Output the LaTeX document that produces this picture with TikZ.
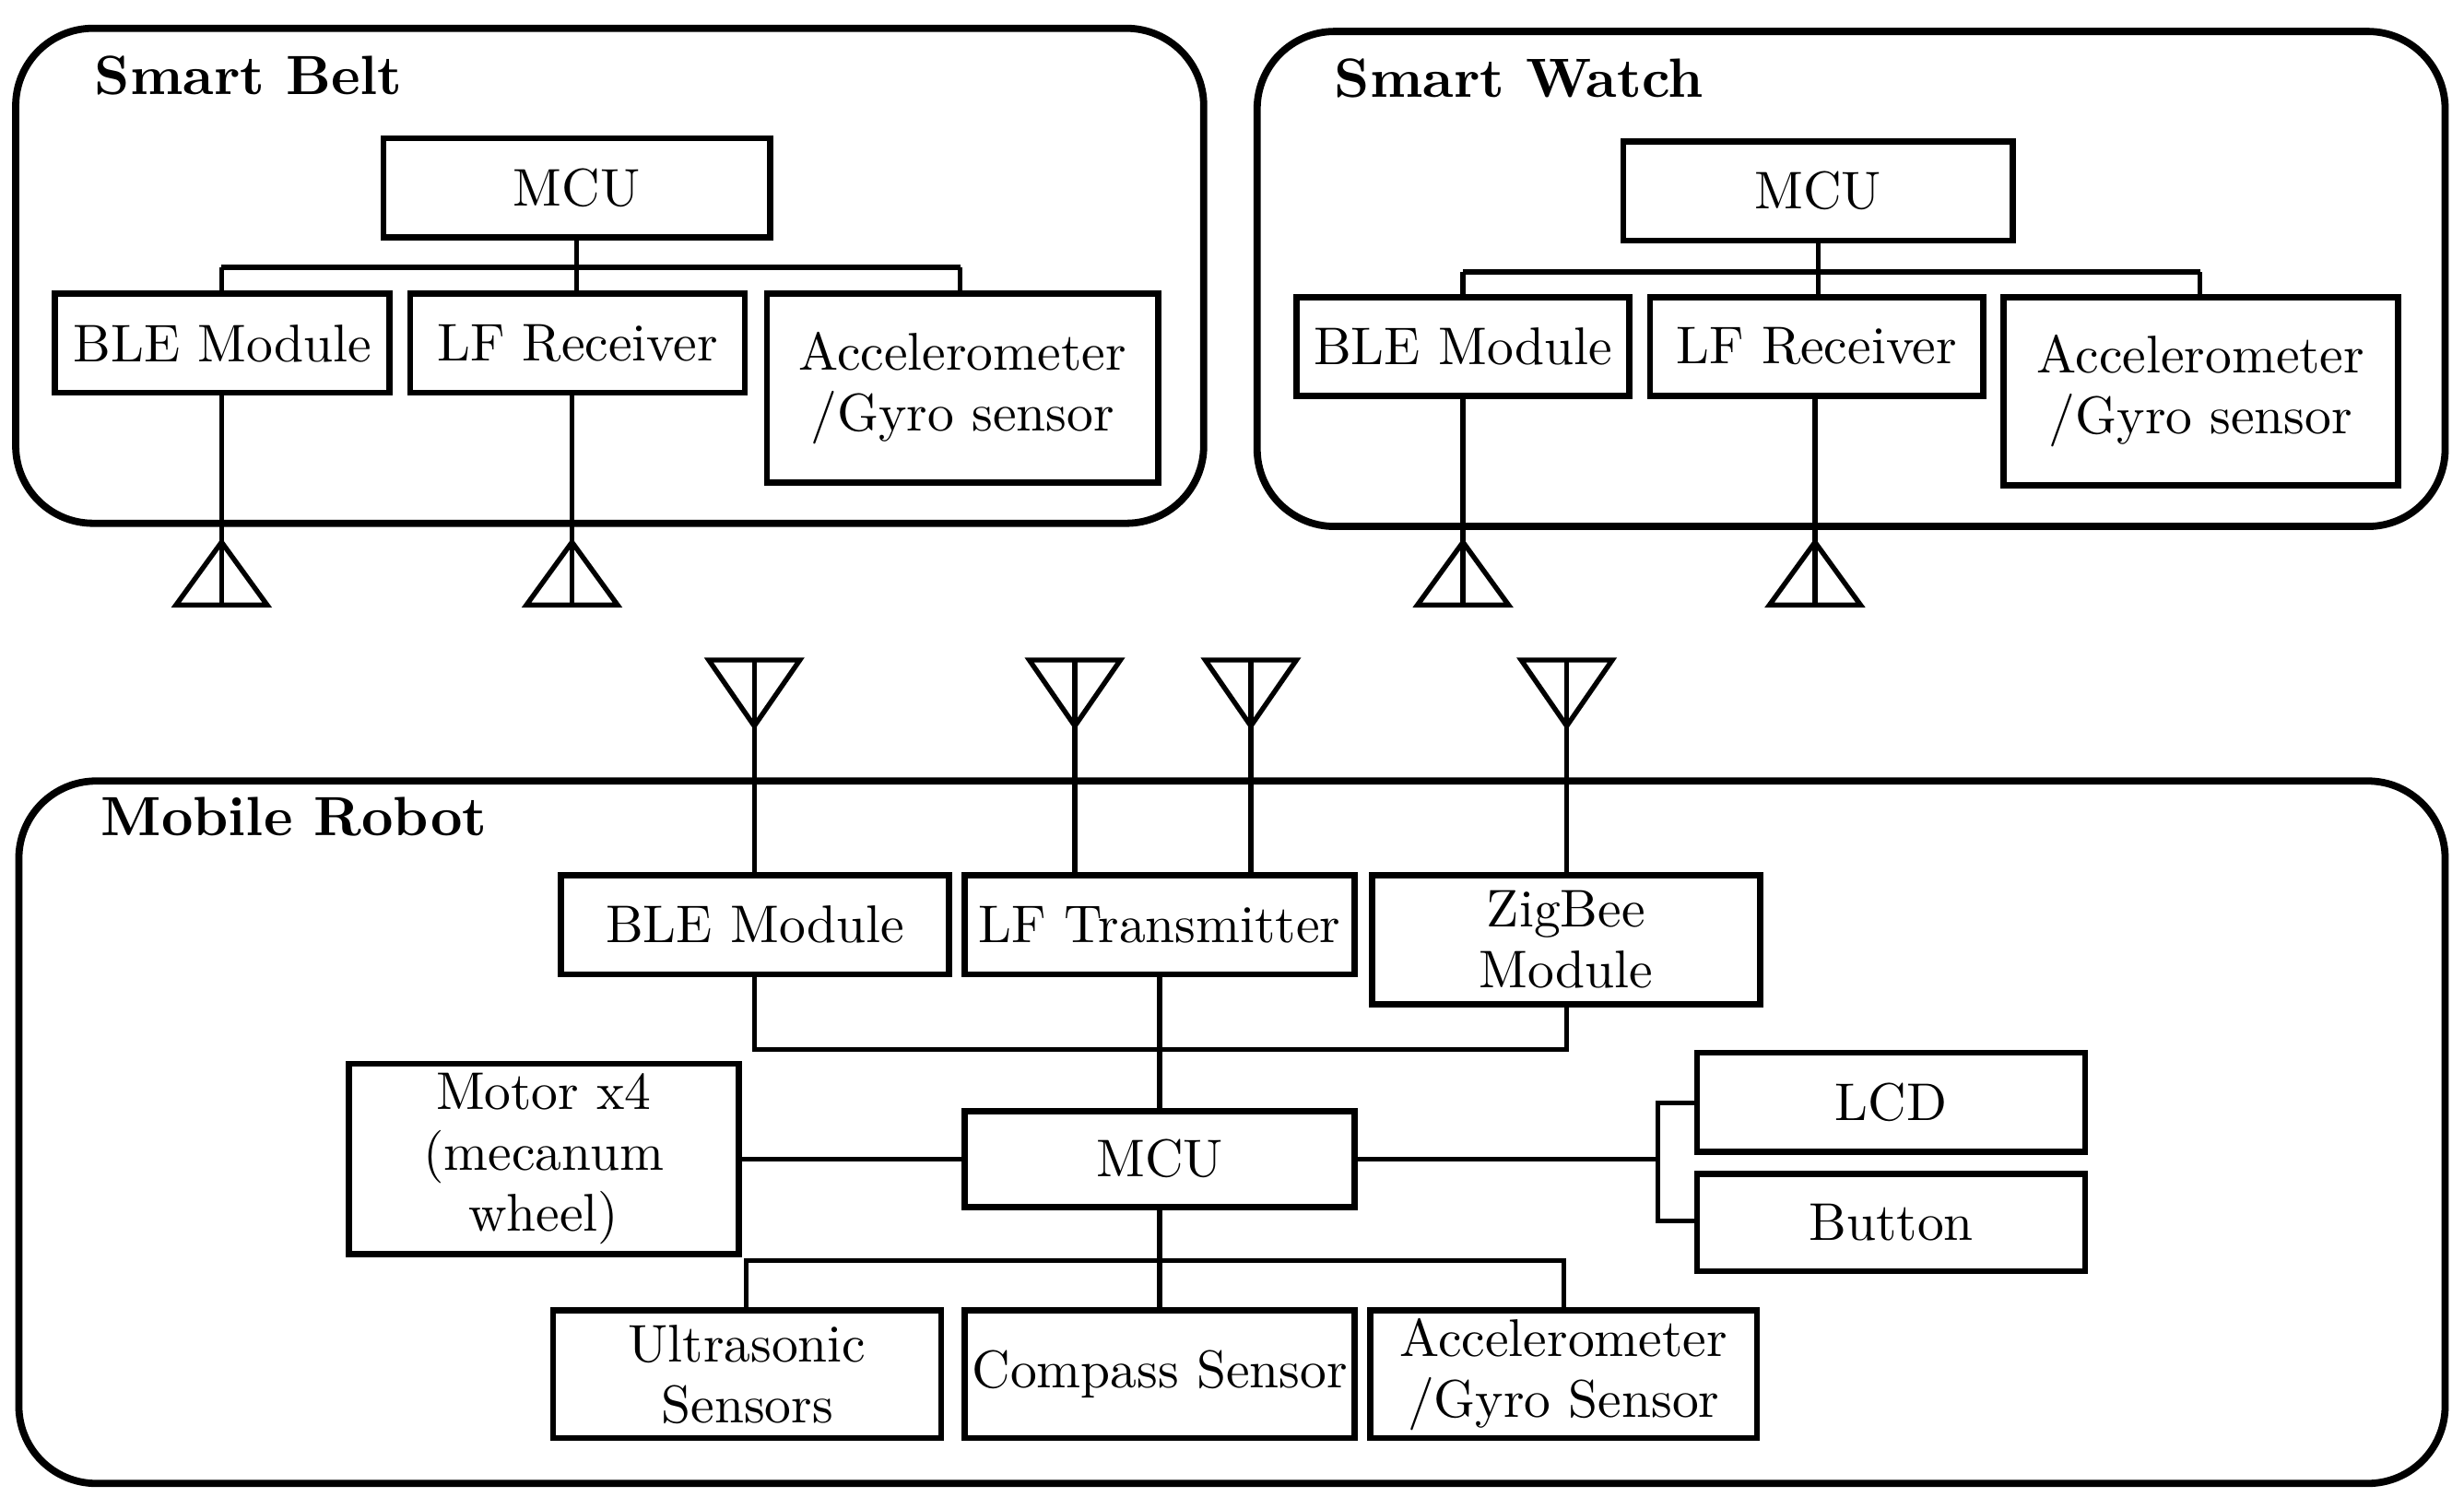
\documentclass[tikz,border=0pt]{standalone}
\begin{document}
\begin{tikzpicture}[x=0.01cm,y=-0.01cm,line width=0.9pt,
  box/.style={draw,rectangle,inner sep=0pt,align=center,font=\fontsize{9.6}{11}\selectfont,line width=1.1pt},
  grp/.style={draw,rounded corners=14pt,line width=1.3pt},
  ttl/.style={anchor=west,font=\fontsize{10}{12}\selectfont\bfseries}]
\useasboundingbox (0,0) rectangle (1568,960);
\newcommand\bx[6]{\node[box,minimum width={(#4-#2)*0.01cm},minimum height={(#5-#3)*0.01cm}] (#1) at ({(#2+#4)/2},{(#3+#5)/2}) {#6};}
\newcommand\antup[2]{\coordinate (#1) at (#2,385); \draw (#2,345) -- ({#2-29},385) -- ({#2+29},385) -- cycle;}
\newcommand\antdn[2]{\coordinate (#1) at (#2,420); \draw (#2,462) -- ({#2-29},420) -- ({#2+29},420) -- cycle;}
% Smart Belt
\draw[grp] (10,18) rectangle (766,333);
\node[ttl] (t1) at (47,48) {Smart Belt};
\bx{bm}{244}{88}{490}{151}{MCU}
\bx{bb}{35}{187}{248}{250}{BLE Module}
\bx{bl}{261}{187}{474}{250}{LF Receiver}
\bx{ba}{488}{187}{737}{307}{Accelerometer\\/Gyro sensor}
\draw (bm.south) -- (367,170);
\draw (141,170) -- (611,170);
\draw (141,170) -- (141,187);
\draw (367,170) -- (367,187);
\draw (611,170) -- (611,187);
\antup{ba1}{141}\antup{ba2}{364}
\draw (141,250) -- (ba1);
\draw (364,250) -- (ba2);
% Smart Watch
\draw[grp] (800,20) rectangle (1556,335);
\node[ttl] (t2) at (836,50) {Smart Watch};
\bx{wm}{1033}{90}{1281}{153}{MCU}
\bx{wb}{825}{189}{1037}{252}{BLE Module}
\bx{wl}{1050}{189}{1262}{252}{LF Receiver}
\bx{wa}{1275}{189}{1526}{309}{Accelerometer\\/Gyro sensor}
\draw (wm.south) -- (1157,173);
\draw (931,173) -- (1400,173);
\draw (931,173) -- (931,189);
\draw (1157,173) -- (1157,189);
\draw (1400,173) -- (1400,189);
\antup{wa1}{931}\antup{wa2}{1155}
\draw (931,252) -- (wa1);
\draw (1155,252) -- (wa2);
% Mobile Robot
\draw[grp] (12,497) rectangle (1556,944);
\node[ttl] (t3) at (51,520) {Mobile Robot};
\bx{rb}{357}{557}{604}{620}{BLE Module}
\bx{rl}{614}{557}{862}{620}{LF Transmitter}
\bx{rz}{873}{557}{1120}{639}{ZigBee\\Module}
\bx{rm}{614}{707}{862}{768}{MCU}
\bx{rmo}{222}{677}{470}{798}{Motor x4\\(mecanum\\wheel)}
\bx{rlcd}{1080}{670}{1327}{733}{LCD}
\bx{rbtn}{1080}{747}{1327}{809}{Button}
\bx{ru}{352}{834}{599}{915}{Ultrasonic\\Sensors}
\bx{rc}{614}{834}{862}{915}{Compass Sensor}
\bx{ra}{872}{834}{1118}{915}{Accelerometer\\/Gyro Sensor}
\antdn{r1}{480}\antdn{r2}{684}\antdn{r3}{796}\antdn{r4}{997}
\draw (r1) -- (480,557);
\draw (r2) -- (684,557);
\draw (r3) -- (796,557);
\draw (r4) -- (997,557);
\draw (480,620) -- (480,668) -- (997,668) -- (997,639);
\draw (rl.south) -- (rm.north);
\draw (rmo.east) -- (rm.west);
\draw (rm.east) -- (1055,737.5);
\draw (1080,702) -- (1055,702) -- (1055,777) -- (1080,777);
\draw (rm.south) -- (738,802);
\draw (475,834) -- (475,802) -- (995,802) -- (995,834);
\draw (738,802) -- (rc.north);
\end{tikzpicture}
\end{document}
